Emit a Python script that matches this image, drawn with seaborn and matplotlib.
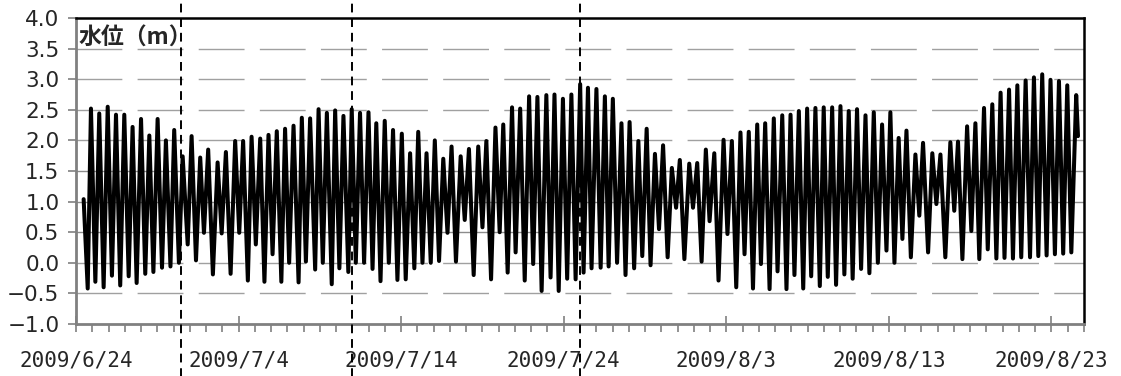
import matplotlib
matplotlib.use("Agg")
import matplotlib.pyplot as plt
import matplotlib.dates as mdates
import matplotlib.ticker as mticker
import pandas as pd
import seaborn as sns

# 観測開始 2009/6/24 0:00 からの経過日数（満潮・干潮の折り返し点）
turn_day = [
    0.47, 0.72, 0.92, 1.19, 1.43, 1.70, 1.95, 2.21, 2.46, 2.72,
    2.97, 3.24, 3.48, 3.73, 4.00, 4.26, 4.51, 4.76, 5.02, 5.29,
    5.53, 5.81, 6.04, 6.33, 6.56, 6.87, 7.11, 7.38, 7.64, 7.87,
    8.13, 8.42, 8.71, 8.96, 9.22, 9.51, 9.79, 10.04, 10.28, 10.57,
    10.80, 11.06, 11.33, 11.59, 11.84, 12.09, 12.35, 12.63, 12.86, 13.11,
    13.38, 13.69, 13.89, 14.14, 14.40, 14.71, 14.92, 15.18, 15.43, 15.73,
    15.94, 16.20, 16.45, 16.75, 16.96, 17.21, 17.47, 17.72, 17.99, 18.24,
    18.47, 18.73, 18.99, 19.24, 19.50, 19.77, 20.04, 20.28, 20.55, 20.81,
    21.05, 21.31, 21.56, 21.82, 22.07, 22.33, 22.59, 22.85, 23.10, 23.37,
    23.66, 23.91, 24.17, 24.46, 24.74, 25.00, 25.24, 25.53, 25.80, 26.06,
    26.28, 26.55, 26.82, 27.04, 27.32, 27.60, 27.87, 28.12, 28.38, 28.64,
    28.93, 29.19, 29.43, 29.69, 29.95, 30.21, 30.47, 30.73, 31.01, 31.22,
    31.49, 31.71, 32.01, 32.27, 32.53, 32.76, 33.02, 33.28, 33.55, 33.80,
    34.05, 34.33, 34.59, 34.83, 35.10, 35.34, 35.61, 35.86, 36.11, 36.39,
    36.65, 36.91, 37.14, 37.42, 37.72, 37.95, 38.21, 38.48, 38.74, 38.97,
    39.26, 39.52, 39.83, 40.07, 40.34, 40.61, 40.87, 41.12, 41.38, 41.64,
    41.90, 42.13, 42.39, 42.66, 42.92, 43.15, 43.44, 43.70, 43.95, 44.19,
    44.46, 44.73, 44.97, 45.22, 45.48, 45.75, 45.99, 46.24, 46.51, 46.75,
    47.02, 47.26, 47.53, 47.77, 48.04, 48.29, 48.56, 48.80, 49.07, 49.32,
    49.58, 49.85, 50.09, 50.34, 50.60, 50.83, 51.08, 51.35, 51.63, 51.87,
    52.10, 52.41, 52.67, 52.92, 53.17, 53.47, 53.78, 54.02, 54.25, 54.52,
    54.81, 55.07, 55.32, 55.56, 55.85, 56.08, 56.36, 56.61, 56.87, 57.11,
    57.39, 57.63, 57.90, 58.14, 58.41, 58.68, 58.92, 59.19, 59.43, 59.70,
    59.94, 60.21, 60.46, 60.72, 60.97, 61.22, 61.52, 61.63,
]
# 水位 (m)
turn_level = [
    1.04, -0.42, 2.52, -0.31, 2.44, -0.40, 2.55, -0.21, 2.42, -0.37,
    2.42, -0.22, 2.22, -0.33, 2.35, -0.18, 2.08, -0.15, 2.35, -0.08,
    2.00, -0.06, 2.17, 0.00, 1.74, 0.30, 2.07, 0.04, 1.72, 0.49,
    1.85, -0.19, 1.64, 0.48, 1.81, -0.18, 1.99, 0.49, 1.99, -0.29,
    2.06, 0.30, 2.03, -0.31, 2.09, 0.14, 2.15, -0.31, 2.19, 0.00,
    2.24, -0.32, 2.37, 0.02, 2.36, -0.11, 2.51, 0.00, 2.45, -0.35,
    2.49, -0.09, 2.40, -0.15, 2.51, 0.00, 2.45, 0.00, 2.46, -0.10,
    2.28, -0.30, 2.32, 0.00, 2.17, -0.28, 2.11, -0.27, 1.79, -0.09,
    2.14, 0.00, 1.79, 0.00, 2.00, 0.03, 1.70, 0.49, 1.90, 0.02,
    1.74, 0.70, 1.86, -0.20, 1.90, 0.58, 1.99, -0.27, 2.21, 0.50,
    2.26, -0.16, 2.54, 0.17, 2.52, -0.29, 2.72, -0.02, 2.71, -0.46,
    2.74, -0.24, 2.75, -0.46, 2.68, -0.26, 2.75, -0.27, 2.92, -0.16,
    2.86, -0.09, 2.84, -0.08, 2.72, -0.06, 2.68, 0.00, 2.28, -0.20,
    2.30, -0.09, 1.99, 0.11, 2.19, -0.04, 1.78, 0.55, 1.92, 0.09,
    1.55, 0.90, 1.68, 0.06, 1.62, 0.90, 1.63, 0.02, 1.85, 0.68,
    1.79, -0.29, 2.01, 0.47, 1.99, -0.40, 2.13, 0.14, 2.14, -0.42,
    2.26, -0.02, 2.28, -0.43, 2.36, -0.14, 2.41, -0.43, 2.42, -0.20,
    2.48, -0.42, 2.52, -0.22, 2.53, -0.38, 2.54, -0.23, 2.54, -0.36,
    2.56, -0.19, 2.48, -0.26, 2.51, -0.10, 2.41, -0.17, 2.46, 0.00,
    2.26, 0.20, 2.46, 0.00, 2.04, 0.39, 2.16, 0.09, 1.77, 0.77,
    1.96, 0.17, 1.79, 0.96, 1.77, 0.09, 1.97, 0.85, 1.98, 0.06,
    2.23, 0.52, 2.28, 0.06, 2.53, 0.22, 2.59, 0.07, 2.78, 0.08,
    2.83, 0.07, 2.90, 0.09, 2.98, 0.09, 3.03, 0.11, 3.08, 0.12,
    2.99, 0.14, 2.97, 0.15, 2.90, 0.17, 2.74, 2.07,
]

start = pd.Timestamp("2009-06-24")
end = pd.Timestamp("2009-08-25")
date_ticks = ["2009-06-24", "2009-07-04", "2009-07-14", "2009-07-24",
              "2009-08-03", "2009-08-13", "2009-08-23"]
event_times = ["2009-06-30 11:00", "2009-07-11 00:00", "2009-07-25 00:00"]
dashed_grid = [3.5, 3.0, 2.5, 2.0, 0.0, -0.5]
solid_grid = [0.5, 1.0, 1.5]

df = pd.DataFrame({
    "time": start + pd.to_timedelta(turn_day, unit="D"),
    "level": turn_level,
})

sns.set_style("ticks")
plt.rcParams["font.family"] = ["DejaVu Sans", "Noto Sans CJK JP"]
plt.rcParams["axes.unicode_minus"] = True

fig = plt.figure(figsize=(11.21, 3.76), dpi=100)
ax = fig.add_axes([76 / 1121, 52 / 376, 1008 / 1121, 306 / 376])

for v in dashed_grid:
    ax.axhline(v, color="#a0a0a0", lw=1.0, ls=(0, (33, 11)), zorder=1)
for v in solid_grid:
    ax.axhline(v, color="#8c8c8c", lw=1.0, zorder=1)

sns.lineplot(data=df, x="time", y="level", color="black", lw=2.9,
             estimator=None, sort=False, ax=ax, zorder=3)
for line in ax.get_lines():
    line.set_solid_joinstyle("round")
    line.set_solid_capstyle("round")

for t in event_times:
    ax.axvline(pd.Timestamp(t), ymin=-0.2, ymax=1.1, color="black", lw=1.4,
               ls=(0, (4.5, 3)), clip_on=False, zorder=6)

ax.set_xlim(start, end)
ax.set_ylim(-1.0, 4.0)
ax.yaxis.set_major_locator(mticker.MultipleLocator(0.5))
ax.yaxis.set_major_formatter(mticker.FuncFormatter(
    lambda v, p: "{:.1f}".format(v).replace("-", "\u2212")))

ax.xaxis.set_major_locator(mticker.FixedLocator(mdates.date2num(pd.to_datetime(date_ticks))))
ax.xaxis.set_minor_locator(mdates.DayLocator())
ax.xaxis.set_major_formatter(mticker.FuncFormatter(
    lambda v, p: "{0.year}/{0.month}/{0.day}".format(mdates.num2date(v))))

ax.set_xlabel("")
ax.set_ylabel("")

for side in ["left", "bottom"]:
    ax.spines[side].set_color("#808080")
    ax.spines[side].set_linewidth(2.0)
for side in ["top", "right"]:
    ax.spines[side].set_color("black")
    ax.spines[side].set_linewidth(1.8)

ax.tick_params(axis="y", direction="out", length=6, width=1.2, color="#808080",
               labelsize=15.5, pad=6)
ax.tick_params(axis="x", which="major", direction="inout", length=12, width=1.2,
               color="#808080", pad=13)
ax.tick_params(axis="x", which="minor", direction="out", length=6, width=1.2,
               color="#808080")
for lab in ax.get_xticklabels():
    lab.set_fontfamily(["DejaVu Sans Mono", "Noto Sans CJK JP"])
    lab.set_fontsize(15)

ax.text(0.003, 0.972, "水位（m）", transform=ax.transAxes, ha="left", va="top",
        fontsize=16.5, fontweight="bold", family=["Noto Sans CJK JP", "DejaVu Sans"],
        zorder=5)

fig.savefig("out.png", dpi=100)
